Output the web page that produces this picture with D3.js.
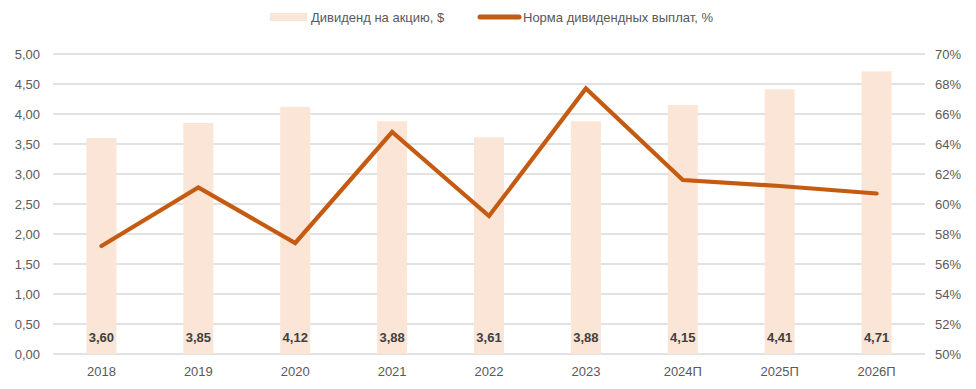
<!DOCTYPE html>
<html><head><meta charset="utf-8">
<script src="https://cdn.jsdelivr.net/npm/d3@7"></script>
<style>body{margin:0;background:#fff}svg{display:block;font-family:"Liberation Sans",Arial,sans-serif}</style>
</head><body><svg id="c" width="976" height="389"></svg>
<script>
const categories = ["2018","2019","2020","2021","2022","2023","2024П","2025П","2026П"];
const dividend = [3.60,3.85,4.12,3.88,3.61,3.88,4.15,4.41,4.71];
const payout = [57.2,61.1,57.4,64.8,59.2,67.7,61.6,61.2,60.7];
const leftTicks = [0,0.5,1,1.5,2,2.5,3,3.5,4,4.5,5];
const rightTicks = [50,52,54,56,58,60,62,64,66,68,70];
const seriesNames = ["Дивиденд на акцию, $","Норма дивидендных выплат, %"];

const svg = d3.select("#c");
const x0 = 53, x1 = 925, yTop = 54, yBot = 354;
const fmt = v => d3.format(".2f")(v).replace(".", ",");
const x = d3.scaleBand().domain(categories).range([x0, x1]).paddingInner(0.69).paddingOuter(0.345);
const yL = d3.scaleLinear().domain([0,5]).range([yBot, yTop]);
const yR = d3.scaleLinear().domain([50,70]).range([yBot, yTop]);
const barColor = "#FBE5D6", lineColor = "#C55A11";

// grid
svg.append("g").selectAll("line").data(leftTicks).join("line")
  .attr("x1", x0).attr("x2", x1).attr("y1", d => yL(d)).attr("y2", d => yL(d))
  .attr("stroke", "#D9D9D9").attr("stroke-width", 1.3);

// left axis
const gl = svg.append("g").attr("transform", `translate(${x0},0)`)
  .call(d3.axisLeft(yL).tickValues(leftTicks).tickFormat(fmt).tickSize(0).tickPadding(13));
gl.select(".domain").remove();
gl.selectAll("text").attr("fill", "#595959").style("font-size", "13px").style("font-family", "Liberation Sans, Arial, sans-serif");

// right axis
const gr = svg.append("g").attr("transform", `translate(${x1},0)`)
  .call(d3.axisRight(yR).tickValues(rightTicks).tickFormat(d => d + "%").tickSize(0).tickPadding(10));
gr.select(".domain").remove();
gr.selectAll("text").attr("fill", "#595959").style("font-size", "13px").style("font-family", "Liberation Sans, Arial, sans-serif");

// x axis
const gx = svg.append("g").attr("transform", `translate(0,${yBot})`)
  .call(d3.axisBottom(x).tickSize(0).tickPadding(13));
gx.select(".domain").remove();
gx.selectAll("text").attr("fill", "#595959").style("font-size", "13px").style("font-family", "Liberation Sans, Arial, sans-serif");

// bars
svg.append("g").selectAll("rect").data(categories).join("rect")
  .attr("x", d => x(d)).attr("width", x.bandwidth())
  .attr("y", (d,i) => yL(dividend[i])).attr("height", (d,i) => yBot - yL(dividend[i]))
  .attr("fill", barColor);

// line
const line = d3.line().x((d,i) => x(categories[i]) + x.bandwidth()/2).y(d => yR(d));
svg.append("path").datum(payout).attr("d", line)
  .attr("fill", "none").attr("stroke", lineColor).attr("stroke-width", 4.2)
  .attr("stroke-linecap", "round").attr("stroke-linejoin", "miter");

// data labels
svg.append("g").selectAll("text").data(categories).join("text")
  .attr("x", d => x(d) + x.bandwidth()/2).attr("y", 341.5)
  .attr("text-anchor", "middle").attr("fill", "#404040")
  .style("font-size", "13px").style("font-weight", "bold")
  .text((d,i) => fmt(dividend[i]));

// legend
const lg = svg.append("g");
lg.append("rect").attr("x", 270).attr("y", 13).attr("width", 37).attr("height", 8).attr("fill", barColor);
lg.append("text").attr("x", 311).attr("y", 21.5).attr("fill", "#595959").style("font-size", "13px").text(seriesNames[0]);
lg.append("line").attr("x1", 480).attr("x2", 519).attr("y1", 17).attr("y2", 17)
  .attr("stroke", lineColor).attr("stroke-width", 5).attr("stroke-linecap", "round");
lg.append("text").attr("x", 523).attr("y", 21.5).attr("fill", "#595959").style("font-size", "13px").text(seriesNames[1]);
</script></body></html>
